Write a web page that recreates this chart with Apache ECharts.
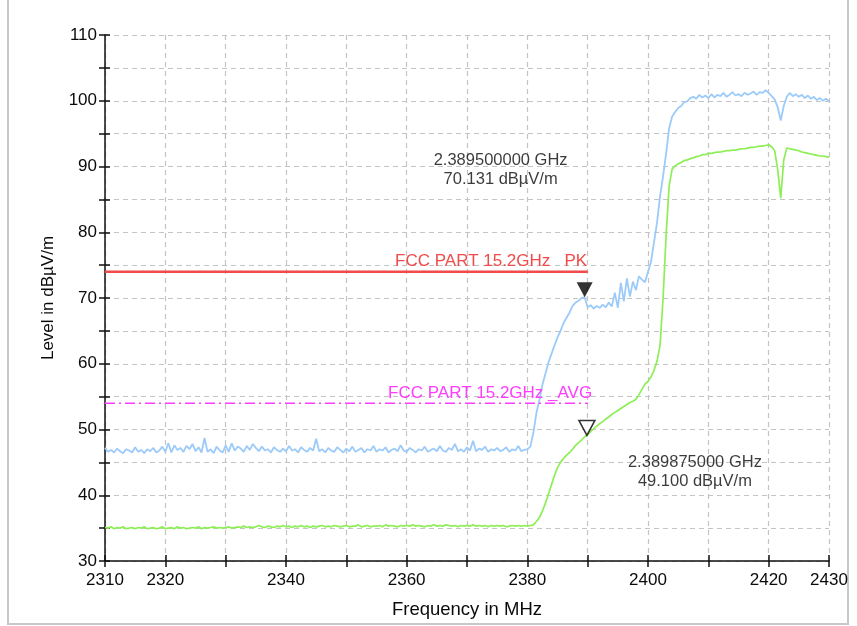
<!DOCTYPE html>
<html>
<head>
<meta charset="utf-8">
<script src="https://cdn.jsdelivr.net/npm/echarts@6/dist/echarts.min.js"></script>
<style>
  html, body { margin: 0; padding: 0; background: #fff; }
  #chart { width: 857px; height: 626px; }
</style>
</head>
<body>
<div id="chart"></div>
<script>
// sweep: 2310 .. 2430 MHz, 0.5 MHz per point
const FREQ_START = 2310;
const FREQ_STEP = 0.5;

// peak trace (blue), dBµV/m
const peakLevels = [
  47.2, 46.6, 46.9, 46.5, 47.1, 46.7, 46.4, 47.0, 46.8, 46.5,
  47.3, 46.6, 46.9, 46.4, 47.0, 46.7, 47.2, 46.5, 46.8, 47.4,
  46.6, 47.9, 46.5, 47.6, 46.9, 47.2, 46.6, 47.5, 47.0, 47.8,
  46.7, 47.3, 46.5, 48.7, 46.6, 47.0, 46.4, 47.4, 46.8, 46.5,
  47.6, 46.6, 47.9, 46.8, 47.4, 47.1, 46.6, 47.5, 46.9, 47.8,
  47.2, 46.7, 47.4, 46.8, 47.0, 46.5, 47.3, 46.9, 46.6, 47.1,
  46.7, 47.5, 46.8, 47.0, 46.5, 47.3, 46.9, 46.6, 47.2, 46.8,
  48.6, 46.7, 47.0, 46.5, 47.2, 46.8, 46.6, 47.3, 46.9, 46.5,
  47.1, 46.7, 47.4, 46.6, 46.9, 47.2, 46.5, 47.0, 46.8, 47.5,
  46.6, 47.0, 46.8, 47.3, 46.5, 46.9, 47.1, 46.7, 47.6, 46.8,
  46.6, 47.2, 46.9, 46.5, 47.0, 46.8, 47.4, 46.6, 46.9, 47.1,
  46.7, 47.5, 46.8, 46.6, 47.2, 46.9, 47.8, 46.7, 47.0, 46.6,
  47.3, 46.8, 48.3, 46.7, 47.1, 46.9, 47.4, 46.6, 47.0, 46.8,
  47.2, 46.7, 46.9, 47.3, 46.6, 47.0, 46.8, 47.5, 46.7, 46.9,
  // 2380 ..
  47.0, 47.4, 49.5, 52.5, 54.5, 56.8, 58.5, 60.2, 61.5, 62.8,
  64.0, 65.0, 66.2, 67.0, 67.8, 68.8, 69.3, 69.6, 70.0, 70.13,
  68.6, 68.9, 68.4, 68.8, 68.5, 69.0, 68.6, 69.3, 68.7, 70.8,
  68.5, 72.3, 69.5, 73.0, 70.2, 72.5, 71.2, 73.3, 72.8, 72.4,
  74.0, 75.5, 78.5, 81.5, 85.5, 88.5, 92.0, 95.8, 97.6, 98.3,
  98.9, 99.2, 99.8, 99.9, 100.4, 100.6, 100.3, 100.9, 100.5, 100.8,
  100.4,
  // 2410.5 ..
  101.0, 100.5, 100.9, 100.7, 101.2, 100.6, 100.9, 101.3, 100.8, 101.0,
  100.7, 101.2, 100.9, 101.1, 101.4, 100.9, 101.3, 101.2, 101.6, 101.2,
  100.7, 100.2, 99.0, 97.0, 99.2, 100.6, 101.2, 100.7, 101.0, 100.6,
  100.9, 100.4, 100.8, 100.3, 100.6, 100.1, 100.4, 100.0, 100.3, 99.9
];

// average trace (green), dBµV/m
const avgLevels = [
  35.1, 35.0, 35.2, 34.9, 35.1, 35.0, 35.2, 34.9, 35.0, 35.1,
  34.9, 35.1, 35.0, 35.2, 34.9, 35.0, 35.1, 34.9, 35.0, 35.2,
  34.9, 35.0, 35.1, 34.9, 35.2, 35.0, 35.1, 34.9, 35.0, 35.1,
  35.0, 35.2, 34.9, 35.1, 35.0, 35.1, 35.2, 35.0, 35.1, 35.0,
  35.1, 35.2, 35.0, 35.1, 35.2, 35.1, 35.3, 35.1, 35.2, 35.1,
  35.2, 35.4, 35.2, 35.1, 35.3, 35.2, 35.1, 35.3, 35.2, 35.4,
  35.2, 35.3, 35.1, 35.3, 35.2, 35.4, 35.2, 35.3, 35.1, 35.3,
  35.2, 35.3, 35.4, 35.2, 35.3, 35.2, 35.4, 35.3, 35.2, 35.3,
  35.4, 35.2, 35.3, 35.3, 35.5, 35.2, 35.3, 35.4, 35.2, 35.3,
  35.3, 35.4, 35.2, 35.5, 35.3, 35.4, 35.3, 35.2, 35.4, 35.3,
  35.4, 35.3, 35.5, 35.3, 35.4, 35.3, 35.2, 35.4, 35.3, 35.5,
  35.3, 35.4, 35.3, 35.5, 35.4, 35.3, 35.4, 35.2, 35.4, 35.3,
  35.4, 35.3, 35.5, 35.3, 35.4, 35.3, 35.4, 35.2, 35.4, 35.3,
  35.4, 35.3, 35.4, 35.2, 35.3, 35.4, 35.3, 35.4, 35.3, 35.4,
  // 2380 ..
  35.3, 35.4, 35.5, 36.0, 36.6, 37.6, 38.8, 40.2, 41.6, 43.0,
  44.2, 45.0, 45.6, 46.1, 46.5, 47.0, 47.6, 48.0, 48.4, 48.9,
  49.2, 49.7, 50.1, 50.5, 50.9, 51.2, 51.6, 51.9, 52.3, 52.6,
  52.9, 53.2, 53.5, 53.8, 54.1, 54.3, 54.6, 55.3, 56.1, 56.9,
  57.3, 58.0, 59.0, 60.4, 62.8, 70.0, 79.5, 87.0, 89.6, 90.1,
  90.4, 90.6, 90.9, 91.0, 91.2, 91.3, 91.5, 91.6, 91.8, 91.8,
  92.0,
  // 2410.5 ..
  92.0, 92.1, 92.2, 92.2, 92.3, 92.4, 92.4, 92.5, 92.5, 92.6,
  92.7, 92.7, 92.8, 92.9, 92.9, 93.0, 93.1, 93.1, 93.2, 93.3,
  93.0, 92.4, 89.5, 85.2, 91.0, 92.8, 92.7, 92.6, 92.5, 92.4,
  92.2, 92.1, 92.0, 91.9, 91.8, 91.7, 91.6, 91.6, 91.5, 91.4
];

// limit lines
const limitFreqs = [2310, 2390];
const pkLimit = [74, 74];
const avgLimit = [54, 54];
const pkLimitName = 'FCC PART 15.2GHz   PK';
const avgLimitName = 'FCC PART 15.2GHz _AVG';

// markers (freq MHz, level dBµV/m)
const markerFreqs = [2389.5, 2389.875];
const markerLevels = [70.131, 49.1];

const xLabelValues = [2310, 2320, 2340, 2360, 2380, 2400, 2420, 2430];

const FONT = 'Liberation Sans, Arial, sans-serif';
const BLUE = '#9ccbfa';
const GREEN = '#8def55';
const RED = '#f24a4a';
const MAGENTA = '#ff3cff';
const INK = '#0a0a0a';

const freqs = peakLevels.map((_, i) => FREQ_START + i * FREQ_STEP);
const peakData = freqs.map((f, i) => [f, peakLevels[i]]);
const avgData = freqs.map((f, i) => [f, avgLevels[i]]);

function markerText(i) {
  return (markerFreqs[i] / 1000).toFixed(9) + ' GHz\n' + markerLevels[i].toFixed(3) + ' dBµV/m';
}

function limitData(levels, name, color, off) {
  return limitFreqs.map((f, i) => {
    if (i < limitFreqs.length - 1) return [f, levels[i]];
    return {
      value: [f, levels[i]],
      label: {
        show: true, position: 'left', distance: 0, offset: off,
        formatter: name, color: color, fontSize: 17, fontFamily: FONT
      }
    };
  });
}

const chart = echarts.init(document.getElementById('chart'));

const gridLine = { show: true, lineStyle: { color: '#c4c4c4', type: [5, 4], width: 1.2 } };

chart.setOption({
  animation: false,
  backgroundColor: '#fff',
  graphic: [{
    type: 'rect', shape: { x: 8, y: -4, width: 840, height: 628 },
    style: { fill: 'none', stroke: '#c8c8c8', lineWidth: 2 }, silent: true
  }],
  grid: { left: 105, right: 28, top: 35, bottom: 65 },
  xAxis: [{
    type: 'value', min: 2310, max: 2430, interval: 10,
    name: 'Frequency in MHz', nameLocation: 'middle', nameGap: 39,
    nameTextStyle: { fontSize: 18.5, color: INK, fontFamily: FONT },
    axisLine: { lineStyle: { color: '#111', width: 1.5 } },
    axisTick: { show: true, length: 6, lineStyle: { color: '#111', width: 1.5 } },
    axisLabel: {
      margin: 11, fontSize: 17, color: INK, fontFamily: FONT,
      showMinLabel: true, showMaxLabel: true,
      formatter: v => xLabelValues.includes(v) ? String(v) : ''
    },
    splitLine: gridLine
  }, {
    type: 'value', min: 2310, max: 2430, interval: 10, position: 'bottom',
    axisLine: { show: false }, axisLabel: { show: false }, splitLine: { show: false },
    axisTick: { show: true, inside: true, length: 6, lineStyle: { color: '#111', width: 1.5 } }
  }],
  yAxis: [{
    type: 'value', min: 30, max: 110, interval: 5,
    name: 'Level in dBµV/m', nameLocation: 'middle', nameGap: 48, nameRotate: 90,
    nameTextStyle: { fontSize: 17, color: INK, fontFamily: FONT },
    axisLine: { show: true, lineStyle: { color: '#111', width: 1.5 } },
    axisTick: { show: true, length: 6, lineStyle: { color: '#111', width: 1.5 } },
    axisLabel: {
      margin: 8, fontSize: 17, color: INK, fontFamily: FONT,
      formatter: v => v % 10 === 0 ? String(v) : ''
    },
    splitLine: gridLine
  }, {
    type: 'value', min: 30, max: 110, interval: 5, position: 'left',
    axisLine: { show: false }, axisLabel: { show: false }, splitLine: { show: false },
    axisTick: { show: true, inside: true, length: 5, lineStyle: { color: '#111', width: 1.5 } }
  }],
  series: [
    {
      name: 'AV', type: 'line', data: avgData, showSymbol: false,
      lineStyle: { color: GREEN, width: 1.7 }, z: 3
    },
    {
      name: 'PK', type: 'line', data: peakData, showSymbol: false,
      lineStyle: { color: BLUE, width: 1.8 }, z: 4
    },
    {
      name: 'PK limit', type: 'line', data: limitData(pkLimit, pkLimitName, RED, [0, -10]),
      symbol: 'circle', symbolSize: 1, itemStyle: { color: RED },
      lineStyle: { color: RED, width: 2.5 }, z: 5
    },
    {
      name: 'AV limit', type: 'line', data: limitData(avgLimit, avgLimitName, MAGENTA, [5, -10]),
      symbol: 'circle', symbolSize: 1, itemStyle: { color: MAGENTA },
      lineStyle: { color: MAGENTA, width: 1.5, type: [10, 4, 2, 4] }, z: 5
    },
    {
      name: 'markers', type: 'scatter', z: 10,
      symbol: 'path://M0,0 L2,0 L1,2 Z', symbolSize: [16, 15], symbolOffset: [0, -7.5],
      data: [
        {
          value: [markerFreqs[0], markerLevels[0]],
          itemStyle: { color: '#000' },
          label: {
            show: true, position: 'inside', offset: [-84, -120], formatter: markerText(0),
            color: INK, fontSize: 16.5, lineHeight: 19, fontFamily: FONT, align: 'center'
          }
        },
        {
          value: [markerFreqs[1], markerLevels[1]],
          itemStyle: { color: '#fff', borderColor: '#000', borderWidth: 1.5 },
          label: {
            show: true, position: 'inside', offset: [108, 44], formatter: markerText(1),
            color: INK, fontSize: 16.5, lineHeight: 19, fontFamily: FONT, align: 'center'
          }
        }
      ]
    }
  ]
});
</script>
</body>
</html>
